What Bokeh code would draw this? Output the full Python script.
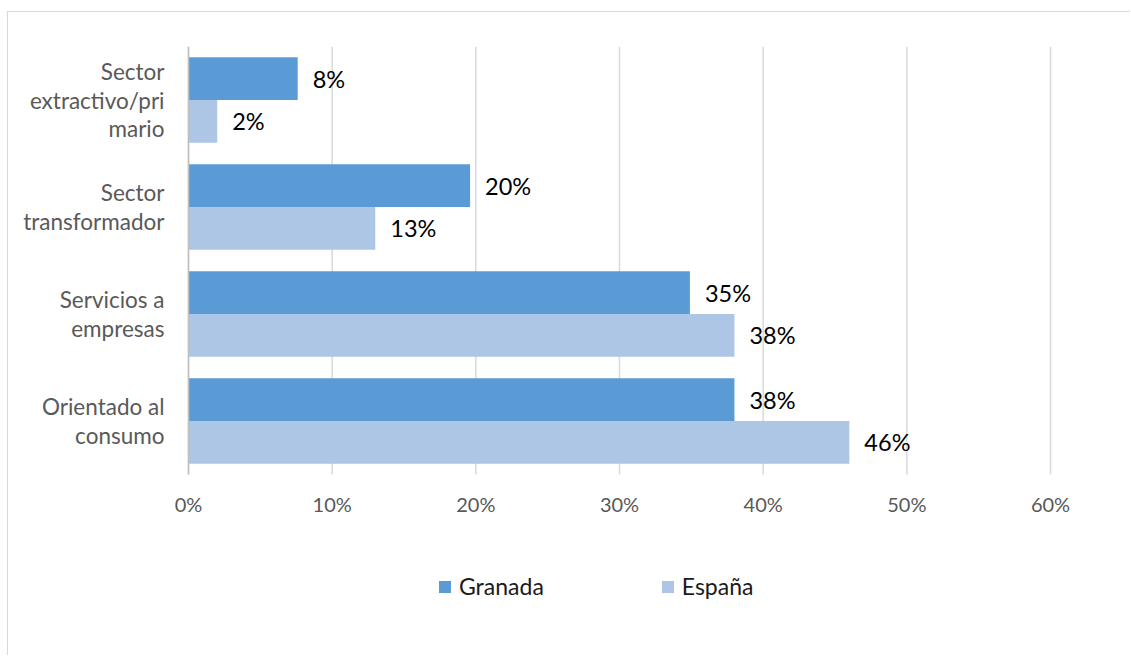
from bokeh.plotting import figure
from bokeh.models import Range1d, ColumnDataSource, Legend, LegendItem, FixedTicker
from bokeh.transform import dodge
from bokeh.core.properties import value
from bokeh.embed import file_html
from bokeh.resources import INLINE

categories = ["Sector extractivo/primario", "Sector transformador",
              "Servicios a empresas", "Orientado al consumo"]
category_lines = [["Sector", "extractivo/pri", "mario"], ["Sector", "transformador"],
                  ["Servicios a", "empresas"], ["Orientado al", "consumo"]]
series_names = ["Granada", "España"]
granada = [7.6, 19.6, 34.9, 38.0]
espana = [2.0, 13.0, 38.0, 46.0]
x_ticks = [0, 10, 20, 30, 40, 50, 60]
x_tick_labels = ["0%", "10%", "20%", "30%", "40%", "50%", "60%"]

colors = ["#5B9BD5", "#ADC6E6"]
FONT = "Lato"
n = len(categories)

BAND = 107.0            # pixels per category band
EXTRA = 181.0           # pixels of frame below the bars (legend area)
X_PX = 862.0            # pixels for 0..60 %
LEFT_PX = 172.0         # frame room left of 0 % (category labels)
RIGHT_PX = 26.0         # frame room right of 60 %
ppu = X_PX / 60.0

p = figure(y_range=Range1d(-EXTRA / BAND, n),
           x_range=Range1d(-LEFT_PX / ppu, 60 + RIGHT_PX / ppu),
           frame_width=int(X_PX + LEFT_PX + RIGHT_PX), frame_height=int(n * BAND + EXTRA),
           min_border_left=8, min_border_right=54,
           min_border_top=34, min_border_bottom=0,
           output_backend="svg", toolbar_location=None)
p.margin = (11, 0, 0, 7)
p.styles = {"border-left": "1.5px solid #d9d9d9", "border-top": "1.5px solid #d9d9d9"}
p.outline_line_color = None

# category slot (top to bottom) -> centre of its band on the y scale
slot = [n - 1 - i + 0.5 for i in range(n)]

src = ColumnDataSource(dict(
    slot=slot,
    granada=granada,
    espana=espana,
    g_lab=[f"{round(v)}%" for v in granada],
    e_lab=[f"{round(v)}%" for v in espana],
))

# vertical gridlines limited to the bar area
p.segment(x0=x_ticks, y0=[0] * len(x_ticks), x1=x_ticks, y1=[n] * len(x_ticks),
          line_color="#d9d9d9", line_width=1.5)

r1 = p.hbar(y=dodge("slot", 0.2), right="granada", left=0, height=0.4,
            source=src, fill_color=colors[0], line_color=None)
r2 = p.hbar(y=dodge("slot", -0.2), right="espana", left=0, height=0.4,
            source=src, fill_color=colors[1], line_color=None)

for ycol, off, lab in [("granada", 0.2, "g_lab"), ("espana", -0.2, "e_lab")]:
    p.text(x=ycol, y=dodge("slot", off), text=lab, source=src,
           x_offset=15, text_baseline="middle", text_align="left",
           text_font=value(FONT), text_font_size="23.5px", text_color="#000000")

# x axis pinned at the bottom of the bar area
p.xaxis.fixed_location = 0
p.xaxis.ticker = FixedTicker(ticks=x_ticks)
p.xaxis.major_label_overrides = {t: l for t, l in zip(x_ticks, x_tick_labels)}
p.xaxis.axis_line_color = None
p.xaxis.major_tick_line_color = None
p.xaxis.minor_tick_line_color = None
p.xaxis.major_label_standoff = 11
p.xaxis.major_label_text_font = FONT
p.xaxis.major_label_text_font_size = "20px"
p.xaxis.major_label_text_color = "#595959"

# category axis pinned at 0 %: wrapped labels, one tick per text line
line_step = 29.0 / BAND
line_ticks, line_over = [], {}
for i, lines in enumerate(category_lines):
    m = len(lines)
    for k, txt in enumerate(lines):
        pos = round(slot[i] + ((m - 1) / 2 - k) * line_step, 6)
        line_ticks.append(pos)
        line_over[pos] = txt
p.yaxis.fixed_location = 0
p.yaxis.ticker = FixedTicker(ticks=line_ticks)
p.yaxis.major_label_overrides = line_over
p.yaxis.bounds = (0, n)
p.yaxis.axis_line_color = "#bfbfbf"
p.yaxis.axis_line_width = 1.5
p.yaxis.major_tick_line_color = None
p.yaxis.minor_tick_line_color = None
p.yaxis.major_label_standoff = 18
p.yaxis.major_label_text_font = FONT
p.yaxis.major_label_text_font_size = "22.5px"
p.yaxis.major_label_text_color = "#595959"

p.xgrid.grid_line_color = None
p.ygrid.grid_line_color = None

legend = Legend(items=[LegendItem(label=series_names[0], renderers=[r1]),
                       LegendItem(label=series_names[1], renderers=[r2])],
                orientation="horizontal", location=(int(LEFT_PX + 249), 55),
                glyph_width=15, glyph_height=15, label_standoff=7, spacing=116,
                label_text_font=FONT, label_text_font_size="23px",
                label_text_color="#1a1a1a", border_line_color=None,
                background_fill_alpha=0, padding=0, margin=0)
p.add_layout(legend, "center")

open("out.html", "w").write(file_html(p, INLINE))
